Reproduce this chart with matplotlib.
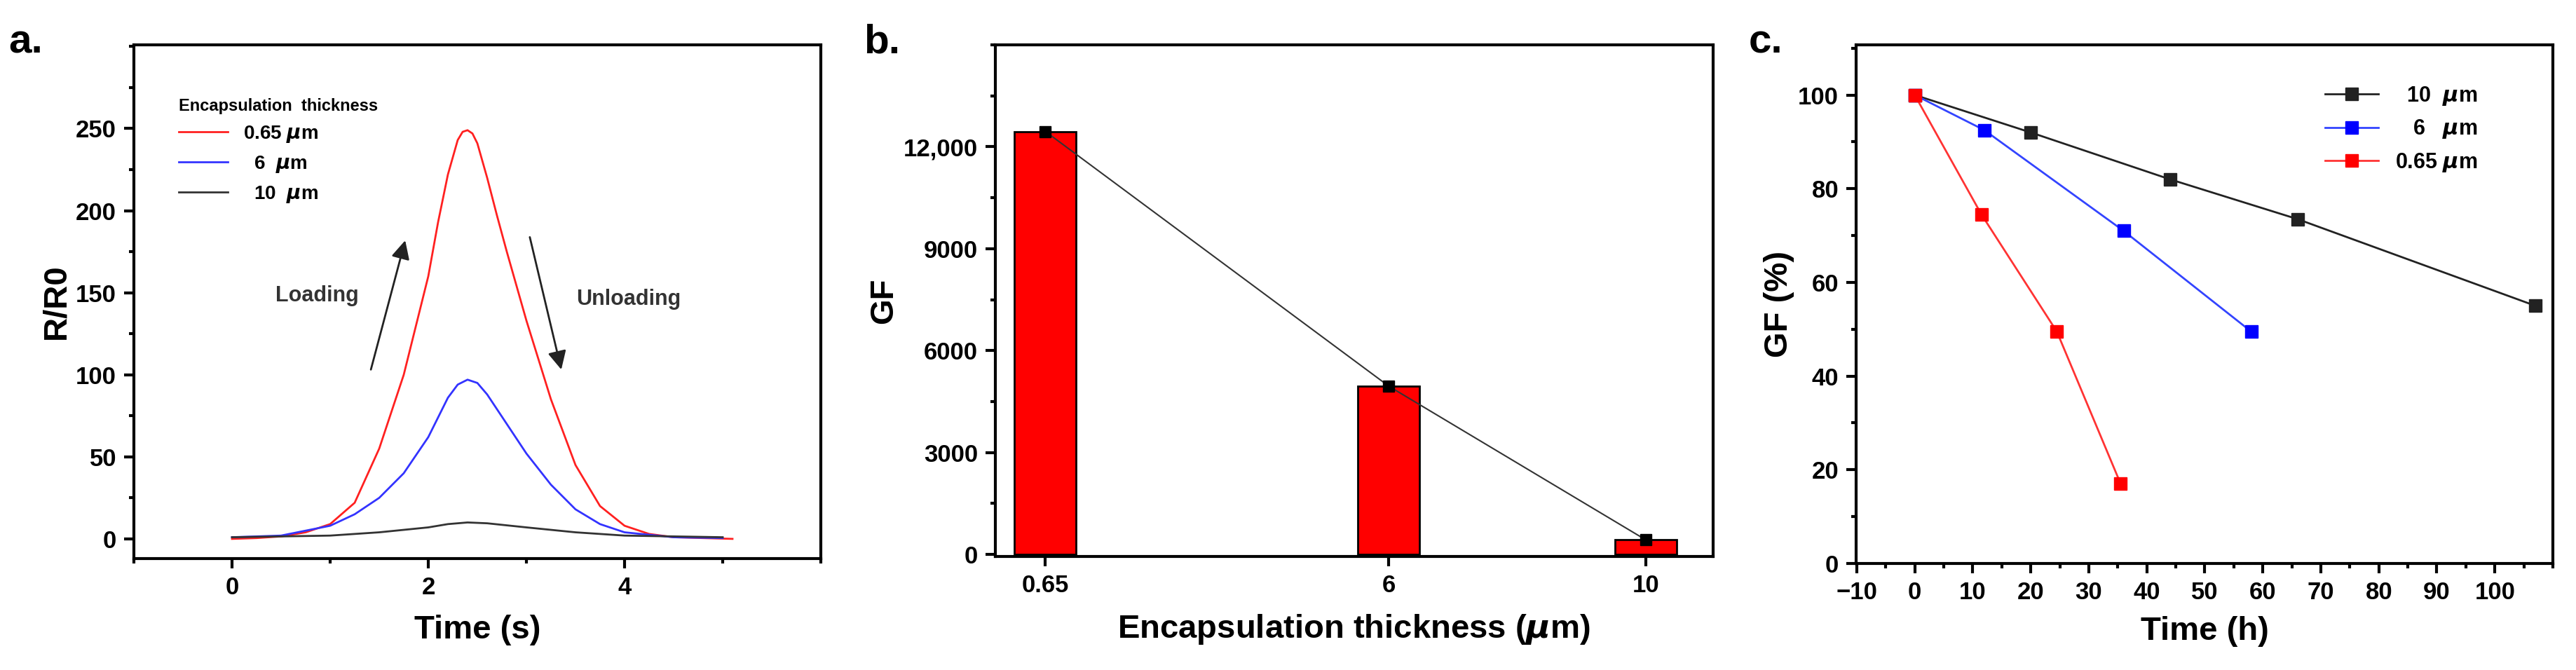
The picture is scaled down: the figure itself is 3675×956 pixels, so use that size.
import numpy as np
import matplotlib.pyplot as plt
from matplotlib.ticker import MultipleLocator, FuncFormatter

plt.rcParams['font.family'] = ['Liberation Sans', 'DejaVu Sans']
plt.rcParams['font.weight'] = 'bold'

#%% data
# a. R/R0 vs time
t_red = [0, 0.25, 0.5, 0.75, 1.0, 1.25, 1.5, 1.75, 2.0, 2.1, 2.2, 2.3, 2.35, 2.4, 2.45, 2.5, 2.6, 2.7, 2.8, 3.0, 3.25, 3.5, 3.75, 4.0, 4.25, 4.5, 5.1]
r_red = [0, 0.5, 1.5, 4, 9, 22, 55, 100, 160, 193, 222, 243, 248, 249, 247, 241, 220, 197, 175, 133, 85, 45, 20, 8, 3, 1, 0]
t_blue = [0, 0.5, 1.0, 1.25, 1.5, 1.75, 2.0, 2.1, 2.2, 2.3, 2.4, 2.5, 2.6, 2.7, 2.8, 3.0, 3.25, 3.5, 3.75, 4.0, 4.5, 5.0]
r_blue = [1, 2, 8, 15, 25, 40, 62, 74, 86, 94, 97, 95, 88, 79, 70, 52, 33, 18, 9, 4, 1, 0.5]
t_black = [0, 1.0, 1.5, 2.0, 2.2, 2.4, 2.6, 3.0, 3.5, 4.0, 5.0]
r_black = [1, 2, 4, 7, 9, 10, 9.5, 7, 4, 2, 1]

# b. GF vs thickness
thick = [0.65, 6, 10]
gf = [12450, 4950, 430]

# c. GF (%) vs time
t10 = [0, 20, 44, 66, 107]
g10 = [100, 92, 82, 73.5, 55]
t6 = [0, 12, 36, 58]
g6 = [100, 92.5, 71, 49.5]
t065 = [0, 11.5, 24.5, 35.5]
g065 = [100, 74.5, 49.5, 17]

TICK = 25
LAB = 34

def style(ax):
    for s in ax.spines.values():
        s.set_linewidth(3)
    ax.tick_params(which='major', direction='out', length=10, width=3, labelsize=TICK, top=False, right=False, pad=8)
    ax.tick_params(which='minor', direction='out', length=5, width=3, top=False, right=False)
    for lab in ax.get_xticklabels() + ax.get_yticklabels():
        lab.set_fontweight('bold')

fig = plt.figure(figsize=(36.75, 9.56), dpi=100)
W, H = 3675, 956
def add(l, r, t, b):
    return fig.add_axes([l / W, 1 - b / H, (r - l) / W, (b - t) / H])

#%% a
ax = add(191, 1171, 64, 797)
ax.plot(t_red, r_red, color='#ff2020', lw=2, label='0.65 $\\mu$m')
ax.plot(t_blue, r_blue, color='#3333ff', lw=2, label='  6  $\\mu$m')
ax.plot(t_black, r_black, color='#333333', lw=2, label='  10  $\\mu$m')
ax.set_xlim(-1, 6)
ax.set_ylim(-12, 301)
ax.set_xticks([0, 2, 4])
ax.xaxis.set_minor_locator(MultipleLocator(1))
ax.set_yticks([0, 50, 100, 150, 200, 250])
ax.yaxis.set_minor_locator(MultipleLocator(25))
ax.set_xlabel('Time (s)', fontsize=LAB, fontweight='bold', labelpad=16)
ax.set_ylabel('R/R0', fontsize=LAB, fontweight='bold')
ax.annotate('', xy=(1.77, 183), xytext=(1.41, 102),
            arrowprops=dict(arrowstyle='-|>', color='#222222', lw=2, mutation_scale=40))
ax.annotate('', xy=(3.36, 102), xytext=(3.03, 185),
            arrowprops=dict(arrowstyle='-|>', color='#222222', lw=2, mutation_scale=40))
ax.text(0.87, 148, 'Loading', fontsize=22, fontweight='bold', color='#333333', ha='center', va='center')
ax.text(4.04, 146, 'Unloading', fontsize=22, fontweight='bold', color='#333333', ha='center', va='center')
leg = ax.legend(loc='upper left', bbox_to_anchor=(0.04, 0.93), frameon=False, fontsize=20,
                title='Encapsulation  thickness', title_fontsize=17, handlelength=2.5, labelspacing=0.5)
leg._legend_box.align = 'left'
style(ax)
fig.text(12 / W, 1 - 60 / H, 'a.', fontsize=42, fontweight='bold', va='center')

#%% b
ax = add(1420, 2444, 64, 794)
ax.bar(thick, gf, width=0.96, color='#ff0000', edgecolor='black', lw=2)
ax.plot(thick, gf, color='#333333', lw=1.5, marker='s', ms=12, mfc='black', mec='black')
ax.set_xlim(-0.13, 11.05)
ax.set_ylim(-60, 15000)
ax.set_xticks(thick)
ax.set_xticklabels(['0.65', '6', '10'])
ax.set_yticks([0, 3000, 6000, 9000, 12000])
ax.yaxis.set_major_formatter(FuncFormatter(lambda v, p: '12,000' if v == 12000 else '%d' % v))
ax.yaxis.set_minor_locator(MultipleLocator(1500))
ax.set_xlabel('Encapsulation thickness ($\\mu$m)', fontsize=LAB, fontweight='bold', labelpad=16)
ax.set_ylabel('GF', fontsize=LAB, fontweight='bold')
style(ax)
fig.text(1232 / W, 1 - 60 / H, 'b.', fontsize=42, fontweight='bold', va='center')

#%% c
ax = add(2648, 3642, 64, 804)
ax.plot(t10, g10, color='#222222', lw=2, marker='s', ms=13, label='  10  $\\mu$m')
ax.plot(t6, g6, color='#3344ff', lw=2, marker='s', ms=13, mfc='#0000ff', mec='#0000ff', label='   6   $\\mu$m')
ax.plot(t065, g065, color='#ff3333', lw=2, marker='s', ms=13, mfc='#ff0000', mec='#ff0000', label='0.65 $\\mu$m')
ax.set_xlim(-10.1, 110)
ax.set_ylim(0, 110.7)
ax.set_xticks(np.arange(-10, 101, 10))
ax.xaxis.set_minor_locator(MultipleLocator(5))
ax.set_yticks(np.arange(0, 101, 20))
ax.yaxis.set_minor_locator(MultipleLocator(10))
ax.set_xlabel('Time (h)', fontsize=LAB, fontweight='bold', labelpad=12)
ax.set_ylabel('GF (%)', fontsize=LAB, fontweight='bold')
ax.legend(loc='upper right', bbox_to_anchor=(0.92, 0.96), frameon=False, fontsize=22, handlelength=2.5)
style(ax)
fig.text(2495 / W, 1 - 60 / H, 'c.', fontsize=42, fontweight='bold', va='center')

fig.savefig('out.png', dpi=100)
